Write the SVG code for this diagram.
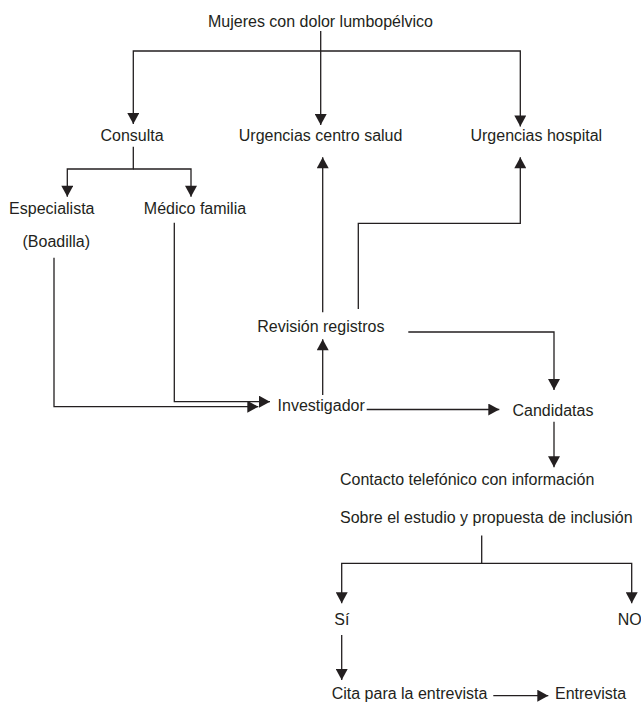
<svg xmlns="http://www.w3.org/2000/svg" width="641" height="704" viewBox="0 0 641 704">
<style>
text{font-family:"Liberation Sans",Arial,Helvetica,sans-serif;font-size:16px;fill:#231f20}
.m{text-anchor:middle}
.c path{fill:none;stroke:#231f20;stroke-width:1.3;marker-end:url(#ah)}
</style>
<defs>
<marker id="ah" markerUnits="userSpaceOnUse" markerWidth="12" markerHeight="12" viewBox="0 0 11 12" refX="11" refY="6" orient="auto">
<path d="M0,0 L11,6 L0,12 z" fill="#231f20"/>
</marker>
</defs>
<rect width="641" height="704" fill="#ffffff"/>
<g class="c" id="connectors">
<path d="M320.7,31 V125"/>
<path d="M320.7,51 H133.3 V124"/>
<path d="M320.7,51 H520.3 V126.5"/>
<path d="M133.3,146.7 V169 H67.3 V196.7"/>
<path d="M133.3,169 H191 V196.7"/>
<path d="M54,257.7 V406.7 H258.3"/>
<path d="M174.3,222.7 V401.7 H270"/>
<path d="M322.7,395 V339.3"/>
<path d="M322.7,312.3 V157.3"/>
<path d="M358.3,309 V223.3 H520.3 V157.3"/>
<path d="M408.3,332 H554 V390"/>
<path d="M366.7,409.5 H499.3"/>
<path d="M554,421.7 V467.3"/>
<path d="M481.7,535.5 V563.3 H341.7 V603.3"/>
<path d="M481.7,563.3 H631.7 V603.3"/>
<path d="M341.7,635 V680"/>
<path d="M493.3,695.7 H548.3"/>
</g>
<g id="mujeres"><text class="m" x="320.5" y="26.7">Mujeres con dolor lumbopélvico</text></g>
<g id="consulta"><text class="m" x="132" y="141">Consulta</text></g>
<g id="urgencias-centro"><text class="m" x="320.6" y="141">Urgencias centro salud</text></g>
<g id="urgencias-hospital"><text class="m" x="536.3" y="141">Urgencias hospital</text></g>
<g id="especialista"><text class="m" x="51.8" y="214">Especialista</text><text class="m" x="56.3" y="247">(Boadilla)</text></g>
<g id="medico"><text class="m" x="195" y="214">Médico familia</text></g>
<g id="revision"><text class="m" x="320.8" y="332.3">Revisión registros</text></g>
<g id="investigador"><text class="m" x="321.2" y="411">Investigador</text></g>
<g id="candidatas"><text class="m" x="553" y="416">Candidatas</text></g>
<g id="contacto"><text x="340" y="485">Contacto telefónico con información</text><text x="340" y="523">Sobre el estudio y propuesta de inclusión</text></g>
<g id="si"><text x="334.3" y="625">Sí</text></g>
<g id="no"><text x="617.7" y="625">NO</text></g>
<g id="cita"><text x="331.7" y="699.3">Cita para la entrevista</text></g>
<g id="entrevista"><text x="555" y="699.3">Entrevista</text></g>
</svg>
